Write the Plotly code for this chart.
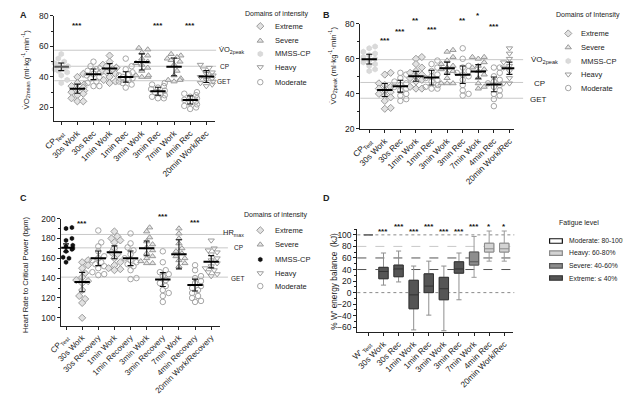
import numpy as np
import plotly.graph_objects as go

# page geometry: the browser page adds an 8px body margin, so the figure is drawn
# 8px smaller and every reference pixel position is shifted by that offset
W, H = 631, 397
OX, OY = 8, 8
WF, HF = W - OX, H - OY
FONT = "Liberation Sans, Arial, sans-serif"

# ---------------- data ----------------
cats_AB = ["CP<sub>Test</sub>", "30s Work", "30s Rec", "1min Work", "1min Rec",
           "3min Work", "3min Rec", "7min Work", "4min Rec", "20min Work/Rec"]
cats_C = ["CP<sub>Test</sub>", "30s Work", "30s Recovery", "1min Work", "1min Recovery",
          "3min Work", "3min Recovery", "7min Work", "4min Recovery", "20min Work/Recovery"]
cats_D = ["W'<sub> Test</sub>", "30s Work", "30s Rec", "1min Work", "1min Rec",
          "3min Work", "3min Rec", "7min Work", "4min Rec", "20min Work/Rec"]
domain_cat = ["MMSS-CP", "Extreme", "Moderate", "Extreme", "Moderate",
              "Severe", "Moderate", "Severe", "Moderate", "Heavy"]

A_vals = [
    [55, 52, 50, 49, 48, 47, 46, 45, 44, 43, 41, 38, 36],
    [42, 40, 36, 35, 34, 33, 32, 31, 30, 29, 28, 26, 24, 24],
    [50, 47, 46, 45, 44, 43, 42, 41, 40, 39, 37, 36, 34, 34],
    [54, 50, 48, 47, 46, 46, 45, 44, 43, 42, 40, 38, 37, 36],
    [52, 47, 45, 43, 42, 41, 40, 39, 38, 37, 36, 35, 33],
    [59, 58, 56, 54, 52, 50, 49, 48, 46, 44, 41, 40, 40, 41],
    [36, 35, 34, 33, 32, 31, 30, 29, 28, 27, 26, 26],
    [55, 54, 53, 52, 51, 50, 48, 44, 41, 39, 38, 38, 37],
    [30, 29, 28, 27, 26, 25, 24, 23, 22, 21, 20, 19],
    [48, 46, 45, 43, 42, 41, 40, 39, 38, 37, 36, 35, 34],
]
A_mean = [46.6, 32.3, 41.7, 45.5, 40.0, 49.8, 30.6, 46.6, 24.9, 40.2]
A_err = [2.5, 3.0, 3.5, 3.2, 3.4, 5.3, 2.6, 5.8, 2.7, 3.9]
A_stars = ["", "***", "", "", "", "", "***", "", "***", ""]
A_star_y = [0, 74, 0, 0, 0, 0, 74, 0, 74, 0]
A_refs = [57.5, 47.0, 37.5]

B_vals = [
    [67, 66, 64, 63, 62, 61, 60, 59, 58, 57, 56, 54, 53],
    [52, 51, 46, 45, 44, 43, 42, 41, 40, 39, 38, 36, 32, 31.5],
    [52, 51, 49, 47, 46, 45, 44, 43, 42, 40, 39, 37, 36],
    [61, 60, 57, 55, 53, 52, 51, 50, 49, 48, 47, 44, 43, 43],
    [59, 57, 55, 53, 51, 50, 49, 48, 47, 45, 44, 43, 43],
    [65, 64, 61, 59, 57, 56, 55, 54, 53, 52, 49, 46, 46, 46],
    [66, 60, 56, 55, 53, 52, 51, 50, 48, 45, 42, 40, 39],
    [61, 61, 60, 58, 56, 55, 54, 53, 51, 49, 46, 44, 43],
    [55, 55, 52, 50, 48, 47, 46, 45, 44, 42, 40, 39, 37, 33],
    [66, 63, 60, 58, 57, 56, 55, 54, 53, 51, 49, 46, 46, 46],
]
B_mean = [59.8, 42.2, 44.4, 50.0, 49.3, 54.6, 50.9, 52.8, 45.4, 54.6]
B_err = [2.8, 3.7, 3.4, 2.8, 4.2, 3.5, 5.0, 3.9, 4.2, 3.5]
B_stars = ["", "***", "***", "**", "***", "", "**", "*", "***", ""]
B_star_y = [0, 70.2, 75.4, 81.8, 76.7, 0, 81.8, 84.6, 78.2, 0]
B_refs = [59.5, 46.5, 37.5]

C_vals = [
    [191, 190, 180, 178, 173, 172, 171, 170, 170, 169, 167, 161, 160, 156],
    [158, 156, 153, 150, 145, 141, 138, 137, 135, 128, 122, 119, 115, 100],
    [188, 176, 172, 167, 162, 160, 158, 156, 154, 152, 150, 146, 144, 143],
    [187, 182, 180, 178, 176, 170, 166, 164, 160, 156, 153, 150, 149, 148],
    [185, 175, 171, 168, 164, 160, 158, 156, 154, 152, 148, 140, 139],
    [191, 187, 181, 177, 174, 171, 168, 165, 162, 160, 157, 155, 155],
    [167, 156, 148, 146, 144, 142, 138, 135, 132, 128, 125, 122, 116],
    [190, 185, 180, 175, 170, 167, 165, 162, 160, 158, 155, 152],
    [153, 148, 142, 140, 137, 135, 132, 130, 128, 125, 122, 120, 117, 116],
    [178, 170, 168, 166, 164, 160, 158, 155, 152, 150, 148, 146, 144, 142],
]
C_mean = [170.5, 136.0, 160.0, 166.0, 160.0, 170.0, 138.5, 164.0, 133.0, 156.5]
C_err = [4.0, 9.8, 7.4, 6.5, 7.4, 7.4, 7.0, 14.7, 6.0, 6.2]
C_stars = ["", "***", "", "", "", "", "***", "", "***", ""]
C_star_y = [0, 195.5, 0, 0, 0, 0, 202.5, 0, 196.5, 0]
C_refs = [184, 170.5, 141]

D_q1 = [100, 24, 27.5, -28, 0, -12.4, 33.7, 47.7, 70.3, 70.3]
D_med = [100, 36.6, 41, -3.9, 11.3, 6.7, 41, 53.4, 75.9, 75.9]
D_q3 = [100, 43.8, 47.7, 21.4, 32.5, 26.5, 53.4, 70.3, 85.5, 85.5]
D_lo = [100, 13, 18.5, -64.6, -39, -66, -12.4, 26.5, 54.5, 54.5]
D_hi = [100, 68.6, 72, 46, 54.5, 46, 68.6, 97.3, 106.7, 106.7]
D_level = ["Test", "Extreme", "Extreme", "Extreme", "Extreme", "Extreme",
           "Extreme", "Severe", "Heavy", "Heavy"]
D_stars = ["", "***", "***", "***", "***", "***", "***", "***", "*", "*"]
D_star_y = [0, 106, 115, 106, 115, 106, 106, 115, 115, 115]

legend_names = ["Extreme", "Severe", "MMSS-CP", "Heavy", "Moderate"]
fatigue_names = ["Moderate: 80-100%", "Heavy: 60-80%", "Severe: 40-60%", "Extreme: \u2264 40%"]

# ---------------- styles ----------------
STY = {
    "Extreme": dict(symbol="diamond", color="#e2e2e2", line=dict(color="#9a9a9a", width=1), size=5.5),
    "Severe": dict(symbol="triangle-up", color="#e6e6e6", line=dict(color="#999999", width=1), size=5.5),
    "MMSS-CP": dict(symbol="hexagon", color="#dadada", line=dict(color="#cfcfcf", width=0.5), size=5.5),
    "Heavy": dict(symbol="triangle-down-open", color="#9c9c9c", line=dict(color="#9c9c9c", width=1), size=5.5),
    "Moderate": dict(symbol="circle-open", color="#a6a6a6", line=dict(color="#a6a6a6", width=1), size=5.5),
}
STY_C = dict(STY)
STY_C["MMSS-CP"] = dict(symbol="hexagon", color="#111111", line=dict(color="#111111", width=0.5), size=4.5)

D_STY = {
    "Test": dict(fill="#6a6a6a", line="#6a6a6a", whisk="#6a6a6a"),
    "Moderate": dict(fill="#ffffff", line="#111111", whisk="#111111"),
    "Heavy": dict(fill="#d3d3d3", line="#8a8a8a", whisk="#9a9a9a"),
    "Severe": dict(fill="#8d8d8d", line="#555555", whisk="#9a9a9a"),
    "Extreme": dict(fill="#555555", line="#333333", whisk="#8f8f8f"),
}

# panel geometry in page pixels: x domain, y domain (top, bottom), x range, y range
GEO = {
    "A": dict(xd=(43, 207), yd=(11, 119), xr=[-0.43, 9.55], yr=[11, 80]),
    "B": dict(xd=(355, 512), yd=(19, 127), xr=[-0.57, 9.31], yr=[20, 80]),
    "C": dict(xd=(50, 212), yd=(219, 329), xr=[-0.30, 9.55], yr=[92, 200]),
    "D": dict(xd=(352, 511), yd=(229.8, 335.3), xr=[-0.73, 9.6], yr=[-68, 110]),
}


def px_x(x):
    return (x - OX) / WF


def px_y(y):
    return 1 - (y - OY) / HF


def data_to_paper(panel, xv, yv):
    g = GEO[panel]
    xpx = g["xd"][0] + (xv - g["xr"][0]) / (g["xr"][1] - g["xr"][0]) * (g["xd"][1] - g["xd"][0])
    ypx = g["yd"][0] + (g["yr"][1] - yv) / (g["yr"][1] - g["yr"][0]) * (g["yd"][1] - g["yd"][0])
    return px_x(xpx), px_y(ypx)


def swarm(vals, ppu, ppc, d=5.0, maxoff=0.42):
    vals = np.asarray(vals, float)
    order = np.argsort(vals)
    placed = []
    offs = np.zeros(len(vals))
    cands = [0.0]
    for k in range(1, 12):
        cands += [k * d * 0.6, -k * d * 0.6]
    for idx in order:
        y = vals[idx] * ppu
        chosen = cands[-1]
        for c in cands:
            if all((c - px) ** 2 + (y - py) ** 2 >= (d * 0.95) ** 2 for py, px in placed):
                chosen = c
                break
        placed.append((y, chosen))
        offs[idx] = chosen / ppc
    return np.clip(offs, -maxoff, maxoff)


fig = go.Figure()

panels = [
    ("A", "x", "y", A_vals, A_mean, A_err, STY, 1.565, 16.4),
    ("B", "x2", "y2", B_vals, B_mean, B_err, STY, 1.8, 15.9),
    ("C", "x3", "y3", C_vals, C_mean, C_err, STY_C, 1.02, 16.4),
]

for name, xa, ya, vals, mean, err, sty, ppu, ppc in panels:
    for i, v in enumerate(vals):
        s = sty[domain_cat[i]]
        offs = swarm(v, ppu, ppc)
        fig.add_trace(go.Scatter(
            x=i + offs, y=v, mode="markers", xaxis=xa, yaxis=ya,
            marker=dict(symbol=s["symbol"], size=s["size"], color=s["color"], line=s["line"]),
            showlegend=False, hoverinfo="skip", cliponaxis=False))
    mcol = ["#555555" if (name == "A" and k == 0) else "#000000" for k in range(len(mean))]
    fig.add_trace(go.Scatter(
        x=list(range(len(mean))), y=mean, mode="markers", xaxis=xa, yaxis=ya,
        marker=dict(symbol="line-ew", size=11, color="black", line=dict(color=mcol, width=2)),
        error_y=dict(type="data", array=err, width=3, thickness=1.1, color="#111111"),
        showlegend=False, hoverinfo="skip"))

# panel D boxes: whiskers in lighter grey first, then the box body on top
for i in range(len(cats_D)):
    st = D_STY[D_level[i]]
    bw = 0.62 if i else 0.6
    fig.add_trace(go.Box(
        x=[i], q1=[D_q1[i]], median=[D_med[i]], q3=[D_q3[i]],
        lowerfence=[D_lo[i]], upperfence=[D_hi[i]],
        xaxis="x4", yaxis="y4", width=bw, whiskerwidth=0.55,
        fillcolor=st["fill"], line=dict(color=st["whisk"], width=1.3 if i == 0 else 1),
        boxpoints=False, showlegend=False, hoverinfo="skip"))
    fig.add_trace(go.Box(
        x=[i], q1=[D_q1[i]], median=[D_med[i]], q3=[D_q3[i]],
        lowerfence=[D_q1[i]], upperfence=[D_q3[i]],
        xaxis="x4", yaxis="y4", width=bw, whiskerwidth=0,
        fillcolor=st["fill"], line=dict(color=st["line"], width=1.3 if i == 0 else 1),
        boxpoints=False, showlegend=False, hoverinfo="skip"))

shapes = []
annotations = []


def hline(yv, ref, x0px, x1px, color="#c8c8c8", dash="solid", width=1):
    shapes.append(dict(type="line", xref="paper", yref=ref, x0=px_x(x0px), x1=px_x(x1px),
                       y0=yv, y1=yv, line=dict(color=color, width=width, dash=dash), layer="below"))


for yv in A_refs:
    hline(yv, "y", 43, 208)
for yv in B_refs:
    hline(yv, "y2", 355, 521)
for yv in C_refs:
    hline(yv, "y3", 50, 220)
hline(100, "y4", 352, 512, "#8a8a8a", "dot")
hline(80, "y4", 352, 512, "#c8c8c8", "dash")
hline(60, "y4", 352, 512, "#555555", "dash")
hline(40, "y4", 352, 512, "#555555", "dash")
hline(0, "y4", 352, 512, "#8a8a8a", "dot")


def ann(text, x, y, size=8, xanchor="center", yanchor="middle", color="#222222", angle=0, bold=False):
    if bold:
        text = "<b>" + text + "</b>"
    annotations.append(dict(text=text, x=x, y=y, xref="paper", yref="paper", showarrow=False,
                            xanchor=xanchor, yanchor=yanchor, textangle=angle,
                            font=dict(size=size, color=color, family=FONT)))


# significance stars (converted from data coords to paper coords)
for panel, stars, sy in [("A", A_stars, A_star_y), ("B", B_stars, B_star_y),
                         ("C", C_stars, C_star_y), ("D", D_stars, D_star_y)]:
    for i, s in enumerate(stars):
        if s:
            xp, yp = data_to_paper(panel, i, sy[i])
            ann(s, xp, yp, size=8, color="#111111", bold=True)

# panel letters
ann("A", px_x(12), px_y(10), size=9, bold=True)
ann("B", px_x(321), px_y(10), size=9, bold=True)
ann("C", px_x(12), px_y(198), size=9, bold=True)
ann("D", px_x(321), px_y(198), size=9, bold=True)

# y titles
ann("V\u0307O<sub>2mean</sub> (ml\u00b7kg<sup>-1</sup>\u00b7min<sup>-1</sup>)", px_x(14), px_y(66), size=7.8, angle=-90)
ann("V\u0307O<sub>2peak</sub> (ml\u00b7kg<sup>-1</sup>\u00b7min<sup>-1</sup>)", px_x(327), px_y(62), size=7.8, angle=-90)
ann("Heart Rate to Critical Power (bpm)", px_x(13), px_y(276), size=7.6, angle=-90)
ann("% W' energy balance  (kJ)", px_x(328), px_y(283), size=8.3, angle=-90)

# reference line labels
ann("V\u0307O<sub>2peak</sub>", px_x(209), px_y(46), size=7.5, xanchor="left")
ann("CP", px_x(223), px_y(63), size=6.5, xanchor="right")
ann("GET", px_x(224), px_y(78), size=6.5, xanchor="right")
ann("V\u0307O<sub>2peak</sub>", px_x(527), px_y(56), size=8, xanchor="left")
ann("CP", px_x(538), px_y(80), size=8)
ann("GET", px_x(537), px_y(97), size=8)
ann("HR<sub>max</sub>", px_x(238), px_y(234), size=7.5, xanchor="right")
ann("CP", px_x(237), px_y(249), size=6.5, xanchor="right")
ann("GET", px_x(238), px_y(280), size=6.5, xanchor="right")

# legends (symbol positions in page-pixel space of an overlay axis)
leg_specs = [
    ("Domains of intensity", 270, 9, 253, 266, [21.5, 36.5, 50, 63.5, 79], STY),
    ("Domains of Intensity", 587, 10, 567, 578, [29, 43.3, 57.3, 71, 85], STY),
    ("Domains of intensity", 269, 215, 253, 266, [231, 245.7, 261, 275, 288.3], STY_C),
]
for title, tx, ty, sx, txt_x, ys, sty in leg_specs:
    ann(title, px_x(tx), px_y(ty), size=7)
    for nm, yy in zip(legend_names, ys):
        s = sty[nm]
        fig.add_trace(go.Scatter(
            x=[sx], y=[yy], mode="markers", xaxis="x5", yaxis="y5",
            marker=dict(symbol=s["symbol"], size=s["size"], color=s["color"], line=s["line"]),
            showlegend=False, hoverinfo="skip", cliponaxis=False))
        ann(nm, px_x(txt_x), px_y(yy), size=7.5, xanchor="left")

ann("Fatigue level", px_x(578), px_y(224), size=7)
fat_keys = ["Moderate", "Heavy", "Severe", "Extreme"]
for nm, key, yy in zip(fatigue_names, fat_keys, [242, 254.5, 267.5, 280]):
    st = D_STY[key]
    shapes.append(dict(type="rect", xref="paper", yref="paper",
                       x0=px_x(548), x1=px_x(561), y0=px_y(yy + 2.3), y1=px_y(yy - 2.3),
                       fillcolor=st["fill"], line=dict(color="#111" if key == "Moderate" else st["line"], width=1.2)))
    ann(nm, px_x(566), px_y(yy), size=6.8, xanchor="left")

axis_common = dict(showline=True, linecolor="#222222", linewidth=1.2, ticks="outside",
                   ticklen=3, tickwidth=1, tickcolor="#222222", showgrid=False, zeroline=False,
                   fixedrange=True)


def xaxis(p, labels, anchor, fs):
    g = GEO[p]
    return dict(axis_common, domain=[px_x(g["xd"][0]), px_x(g["xd"][1])], range=g["xr"],
                tickmode="array", tickvals=list(range(len(labels))), ticktext=labels,
                tickangle=-45, anchor=anchor, tickfont=dict(size=fs, family=FONT, color="#222222"))


def yaxis(p, tvals, anchor):
    g = GEO[p]
    return dict(axis_common, domain=[px_y(g["yd"][1]), px_y(g["yd"][0])], range=g["yr"],
                tickmode="array", tickvals=tvals, anchor=anchor,
                tickfont=dict(size=8.5, family=FONT, color="#222222"),
                minor=dict(dtick=10, tick0=0, ticks="outside", ticklen=2, tickcolor="#222222", showgrid=False))


fig.update_layout(
    width=WF, height=HF, autosize=False,
    margin=dict(l=0, r=0, t=0, b=0),
    paper_bgcolor="white", plot_bgcolor="rgba(0,0,0,0)",
    font=dict(family=FONT, size=9, color="#222222"),
    boxmode="overlay",
    xaxis=xaxis("A", cats_AB, "y", 8.3),
    yaxis=yaxis("A", [20, 40, 60, 80], "x"),
    xaxis2=xaxis("B", cats_AB, "y2", 8.3),
    yaxis2=yaxis("B", [20, 40, 60, 80], "x2"),
    xaxis3=xaxis("C", cats_C, "y3", 8),
    yaxis3=yaxis("C", [100, 120, 140, 160, 180, 200], "x3"),
    xaxis4=xaxis("D", cats_D, "y4", 8.3),
    yaxis4=yaxis("D", [-60, -40, -20, 0, 20, 40, 60, 80, 100], "x4"),
    xaxis5=dict(domain=[0, 1], range=[OX, W], visible=False, fixedrange=True, anchor="y5"),
    yaxis5=dict(domain=[0, 1], range=[H, OY], visible=False, fixedrange=True, anchor="x5"),
    shapes=shapes, annotations=annotations,
)

fig.write_html("out.html")
